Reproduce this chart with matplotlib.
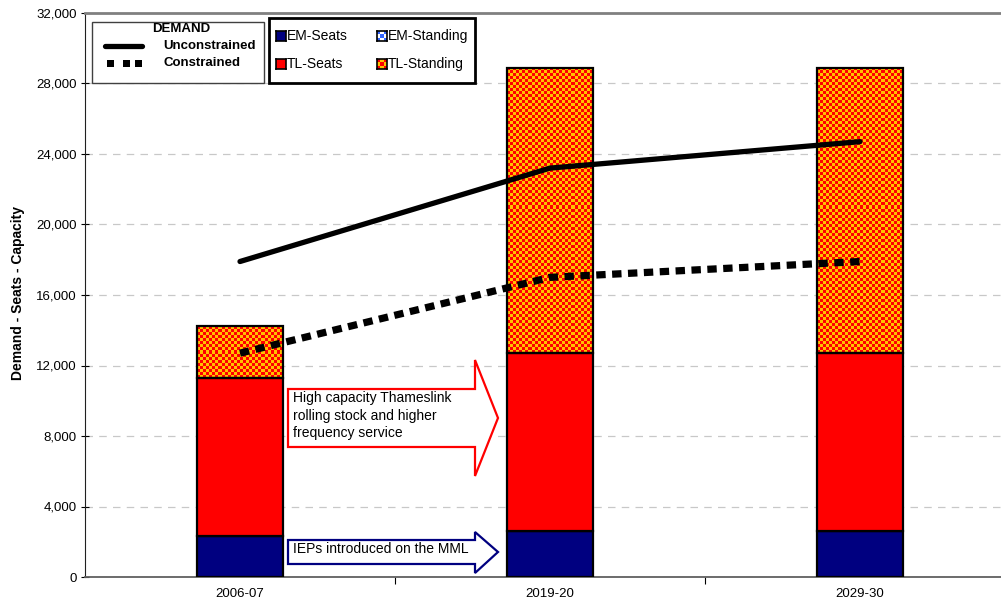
import numpy as np
import matplotlib
matplotlib.use("Agg")
import matplotlib.pyplot as plt
from matplotlib.patches import Rectangle, Polygon
from matplotlib.lines import Line2D
from matplotlib.ticker import FuncFormatter, FixedLocator

plt.rcParams['font.family'] = ['Liberation Sans', 'DejaVu Sans']

# passenger demand vs. seats / capacity
years = ['2006-07', '2019-20', '2029-30']
em_seats = [2350, 2600, 2600]
em_standing = [0, 0, 0]
tl_seats = [8950, 10100, 10100]
tl_standing = [2950, 16200, 16200]
unconstrained = [17900, 23200, 24700]
constrained = [12700, 17000, 17900]

W, H = 1001, 605
fig = plt.figure(figsize=(W / 100, H / 100), dpi=100)

def fx(x):
    return x / W

def fy(y):
    return 1 - y / H

XLIM = (-0.5, -0.5 + 916 / 310)
ax = fig.add_axes([fx(85), fy(577), fx(1001 - 85), (577 - 13) / H])
x = np.arange(len(years))
ax.set_xlim(*XLIM)
ax.set_ylim(0, 32000)

ax.yaxis.grid(True, color='#c8c8c8', linestyle=(0, (6, 5)), linewidth=0.9)
ax.set_axisbelow(True)

bw = 0.275
red_yel = np.array([[1, 0, 0], [1, 0.76, 0]])
blue_wht = np.array([[0.2, 0.4, 1.0], [1, 1, 1]])

def checker(n_x, n_y, cols):
    ii, jj = np.meshgrid(np.arange(n_x), np.arange(n_y))
    return cols[(ii + jj) % 2]

bottom = np.zeros(len(years))
for vals, col, pat in [(em_seats, '#000080', None),
                       (em_standing, 'white', blue_wht),
                       (tl_seats, '#ff0000', None),
                       (tl_standing, 'white', red_yel)]:
    bars = ax.bar(x, vals, bw, bottom=bottom, color=col if pat is None else 'none',
                  edgecolor='black', linewidth=1.6, zorder=3)
    if pat is not None:
        for b, v in zip(bars, vals):
            if v <= 0:
                continue
            x0, y0 = b.get_x(), b.get_y()
            x1, y1 = x0 + b.get_width(), y0 + b.get_height()
            p0 = ax.transData.transform((x0, y0))
            p1 = ax.transData.transform((x1, y1))
            nx = max(1, int(round((p1[0] - p0[0]) / 3)))
            ny = max(1, int(round((p1[1] - p0[1]) / 3)))
            ax.imshow(checker(nx, ny, pat), extent=(x0, x1, y0, y1), origin='lower',
                      aspect='auto', interpolation='nearest', zorder=2)
    bottom += np.array(vals)

ax.plot(x, unconstrained, color='black', lw=3.8, solid_capstyle='round',
        solid_joinstyle='round', zorder=5)
ax.plot(x, constrained, color='black', lw=5.2, linestyle=(0, (1.3, 0.9)),
        dash_capstyle='butt', zorder=5)

# axes styling
ax.spines['right'].set_visible(False)
ax.spines['top'].set_color('#808080')
ax.spines['top'].set_linewidth(2)
ax.spines['left'].set_color('#202020')
ax.spines['bottom'].set_color('#606060')
ax.spines['bottom'].set_linewidth(1.3)

ax.yaxis.set_major_locator(FixedLocator(np.arange(0, 32001, 4000)))
ax.yaxis.set_major_formatter(FuncFormatter(lambda v, p: f'{int(v):,}'))
ax.tick_params(axis='y', direction='inout', length=6, width=0.8, labelsize=9.5, pad=3)

ax.set_xticks(x[:-1] + 0.5)
ax.set_xticklabels([])
ax.set_xticks(x, minor=True)
ax.set_xticklabels(years, minor=True)
ax.tick_params(axis='x', which='major', direction='out', length=5, width=0.8)
ax.tick_params(axis='x', which='minor', length=0, labelsize=9.5, pad=8)
ax.set_xlim(*XLIM)
ax.set_ylim(0, 32000)

fig.text(fx(18), fy(293), 'Demand - Seats - Capacity', rotation=90, fontsize=10,
         fontweight='bold', ha='center', va='center')

# block arrows with notes
def block_arrow(x0, xh, xt, by0, by1, hy0, hy1, ty, col):
    pts = [(x0, by0), (xh, by0), (xh, hy0), (xt, ty), (xh, hy1), (xh, by1), (x0, by1)]
    fig.patches.append(Polygon([(fx(a), fy(b)) for a, b in pts], closed=True,
                               transform=fig.transFigure, facecolor='white',
                               edgecolor=col, linewidth=1.6, zorder=6))

block_arrow(288, 475, 498, 389, 447, 360, 476, 418, '#ff0000')
block_arrow(288, 475, 498, 540, 564, 532, 573, 552, '#000080')
fig.text(fx(293), fy(391), 'High capacity Thameslink\nrolling stock and higher\nfrequency service',
         fontsize=10, ha='left', va='top', linespacing=1.32, zorder=7)
fig.text(fx(293), fy(549), 'IEPs introduced on the MML', fontsize=10,
         ha='left', va='center', zorder=7)

# demand legend box
fig.patches.append(Rectangle((fx(92), fy(83)), fx(264 - 92), (83 - 22) / H,
                             transform=fig.transFigure, facecolor='white',
                             edgecolor='#404040', linewidth=1, zorder=6))
fig.text(fx(181), fy(29), 'DEMAND', fontsize=9.5, fontweight='bold', ha='center',
         va='center', zorder=7)
fig.lines.append(Line2D([fx(105), fx(142)], [fy(46), fy(46)], transform=fig.transFigure,
                        color='black', lw=3.8, solid_capstyle='round', zorder=7))
fig.text(fx(163), fy(46), 'Unconstrained', fontsize=9.5, fontweight='bold',
         va='center', zorder=7)
for sx in (107, 123, 135):
    fig.patches.append(Rectangle((fx(sx), fy(67)), fx(7), 7 / H, transform=fig.transFigure,
                                 facecolor='black', edgecolor='none', zorder=7))
fig.text(fx(163), fy(63), 'Constrained', fontsize=9.5, fontweight='bold',
         va='center', zorder=7)

# seats / standing legend box
fig.patches.append(Rectangle((fx(269), fy(83)), fx(475 - 269), (83 - 18) / H,
                             transform=fig.transFigure, facecolor='white',
                             edgecolor='black', linewidth=2, zorder=6))
legend_items = [('EM-Seats', '#000080', None, 277, 36),
                ('EM-Standing', None, blue_wht, 378, 36),
                ('TL-Seats', '#ff0000', None, 277, 64),
                ('TL-Standing', None, red_yel, 378, 64)]
for label, col, pat, sx, sy in legend_items:
    sw = fig.add_axes([fx(sx - 1), fy(sy + 5), fx(10), 10 / H], zorder=8)
    if pat is None:
        sw.set_facecolor(col)
    else:
        sw.imshow(checker(3, 3, pat), aspect='auto', interpolation='nearest')
    sw.set_xticks([])
    sw.set_yticks([])
    for s in sw.spines.values():
        s.set_color('black')
        s.set_linewidth(1.2)
    fig.text(fx(sx + 10), fy(sy), label, fontsize=10, va='center', zorder=9)

fig.savefig('out.png', dpi=100)
